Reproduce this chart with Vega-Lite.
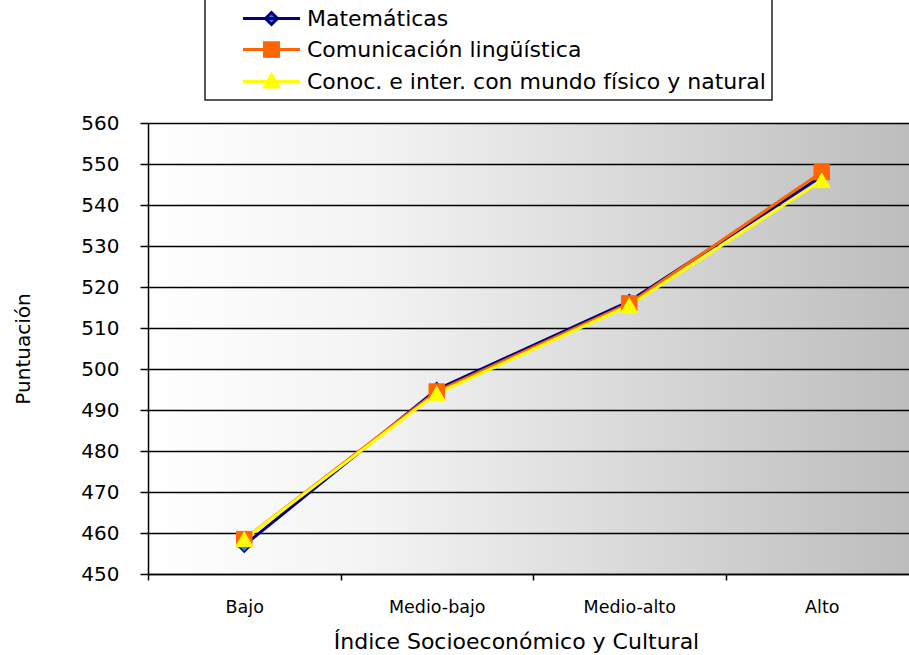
{
  "$schema": "https://vega.github.io/schema/vega-lite/v6.json",
  "width": 761,
  "height": 451,
  "autosize": "none",
  "padding": {"left": 148, "top": 123, "right": 0, "bottom": 81},
  "background": "white",
  "config": {
    "font": "DejaVu Sans",
    "view": {
      "stroke": null,
      "fill": {"gradient": "linear", "x1": 0, "y1": 0, "x2": 1, "y2": 0,
        "stops": [{"offset": 0, "color": "#ffffff"}, {"offset": 0.3, "color": "#f3f3f3"}, {"offset": 1, "color": "#bdbdbd"}]}
    }
  },
  "data": {
    "values": [
      {"nivel": "Bajo", "serie": "Matemáticas", "valor": 457},
      {"nivel": "Medio-bajo", "serie": "Matemáticas", "valor": 495},
      {"nivel": "Medio-alto", "serie": "Matemáticas", "valor": 516.5},
      {"nivel": "Alto", "serie": "Matemáticas", "valor": 547},
      {"nivel": "Bajo", "serie": "Comunicación lingüística", "valor": 458.5},
      {"nivel": "Medio-bajo", "serie": "Comunicación lingüística", "valor": 494.5},
      {"nivel": "Medio-alto", "serie": "Comunicación lingüística", "valor": 516},
      {"nivel": "Alto", "serie": "Comunicación lingüística", "valor": 548},
      {"nivel": "Bajo", "serie": "Conoc. e inter. con mundo físico y natural", "valor": 458.5},
      {"nivel": "Medio-bajo", "serie": "Conoc. e inter. con mundo físico y natural", "valor": 494},
      {"nivel": "Medio-alto", "serie": "Conoc. e inter. con mundo físico y natural", "valor": 515.5},
      {"nivel": "Alto", "serie": "Conoc. e inter. con mundo físico y natural", "valor": 546}
    ]
  },
  "encoding": {
    "x": {
      "field": "nivel", "type": "nominal",
      "sort": ["Bajo", "Medio-bajo", "Medio-alto", "Alto"],
      "scale": {"type": "band", "range": [0, 770], "paddingInner": 0, "paddingOuter": 0},
      "axis": {
        "title": "Índice Socioeconómico y Cultural",
        "titleFontSize": 22, "titleFontWeight": "normal", "titleColor": "#000", "titlePadding": 16, "titleX": 368,
        "labelFontSize": 17.5, "labelColor": "#000", "labelPadding": 18, "labelAngle": 0,
        "tickBand": "extent", "tickSize": 6, "tickColor": "#000", "tickWidth": 1.5,
        "domainColor": "#000", "domainWidth": 1.5, "grid": false
      }
    },
    "y": {
      "field": "valor", "type": "quantitative",
      "scale": {"domain": [450, 560], "nice": false, "zero": false},
      "axis": {
        "values": [450, 460, 470, 480, 490, 500, 510, 520, 530, 540, 550, 560],
        "title": "Puntuación", "titleFontSize": 20, "titleFontWeight": "normal", "titleColor": "#000", "titlePadding": 47,
        "labelFontSize": 20, "labelColor": "#000", "labelPadding": 21,
        "tickSize": 8, "tickColor": "#000", "tickWidth": 1.5,
        "domainColor": "#000", "domainWidth": 1.5,
        "grid": true, "gridColor": "#000", "gridWidth": 1.5, "gridOpacity": 1
      }
    }
  },
  "layer": [
    {
      "mark": {"type": "line", "strokeWidth": 3},
      "encoding": {
        "color": {
          "field": "serie", "type": "nominal",
          "scale": {
            "domain": ["Matemáticas", "Comunicación lingüística", "Conoc. e inter. con mundo físico y natural"],
            "range": ["#000080", "#ff6600", "#ffff00"]
          },
          "legend": {
            "orient": "none", "legendX": 57, "legendY": -144,
            "title": " ", "titleFontSize": 14, "titlePadding": 8,
            "padding": 6, "strokeColor": "#222", "fillColor": "#ffffff",
            "labelFontSize": 22, "labelColor": "#000", "labelOffset": 24, "labelLimit": 700,
            "symbolOffset": 49, "symbolSize": 400, "symbolStrokeWidth": 3, "rowPadding": 5,
            "encode": {
              "legend": {"update": {"strokeWidth": {"value": 1.5}}},
              "symbols": {
                "update": {
                  "shape": {"signal": "datum.value === 'Matemáticas' ? 'M-2.85,0H2.85M-0.6,0L0,-0.6L0.6,0L0,0.6Z' : datum.value === 'Comunicación lingüística' ? 'M-2.85,0H2.85M-0.7,-0.68H0.7V0.68H-0.7Z' : 'M-2.85,0H2.85M0,-0.68L0.7,0.56H-0.7Z'"},
                  "fill": {"signal": "datum.value === 'Matemáticas' ? '#2e8bc0' : scale('color', datum.value)"},
                  "strokeWidth": {"value": 3},
                  "opacity": {"value": 1},
                  "fillOpacity": {"value": 1}
                }
              }
            }
          }
        }
      }
    },
    {
      "transform": [{"filter": "datum.serie === 'Matemáticas'"}],
      "mark": {"type": "point", "filled": true, "shape": "diamond", "size": 190, "fill": "#2e8bc0", "stroke": "#000080", "strokeWidth": 1.5, "opacity": 1}
    },
    {
      "transform": [{"filter": "datum.serie === 'Comunicación lingüística'"}],
      "mark": {"type": "point", "filled": true, "shape": "square", "size": 240, "fill": "#ff6600", "stroke": "#ff6600", "strokeWidth": 1, "opacity": 1}
    },
    {
      "transform": [{"filter": "datum.serie === 'Conoc. e inter. con mundo físico y natural'"}],
      "mark": {"type": "point", "filled": true, "shape": "triangle-up", "size": 280, "fill": "#ffff00", "stroke": "#ffff00", "strokeWidth": 1, "opacity": 1}
    }
  ]
}
